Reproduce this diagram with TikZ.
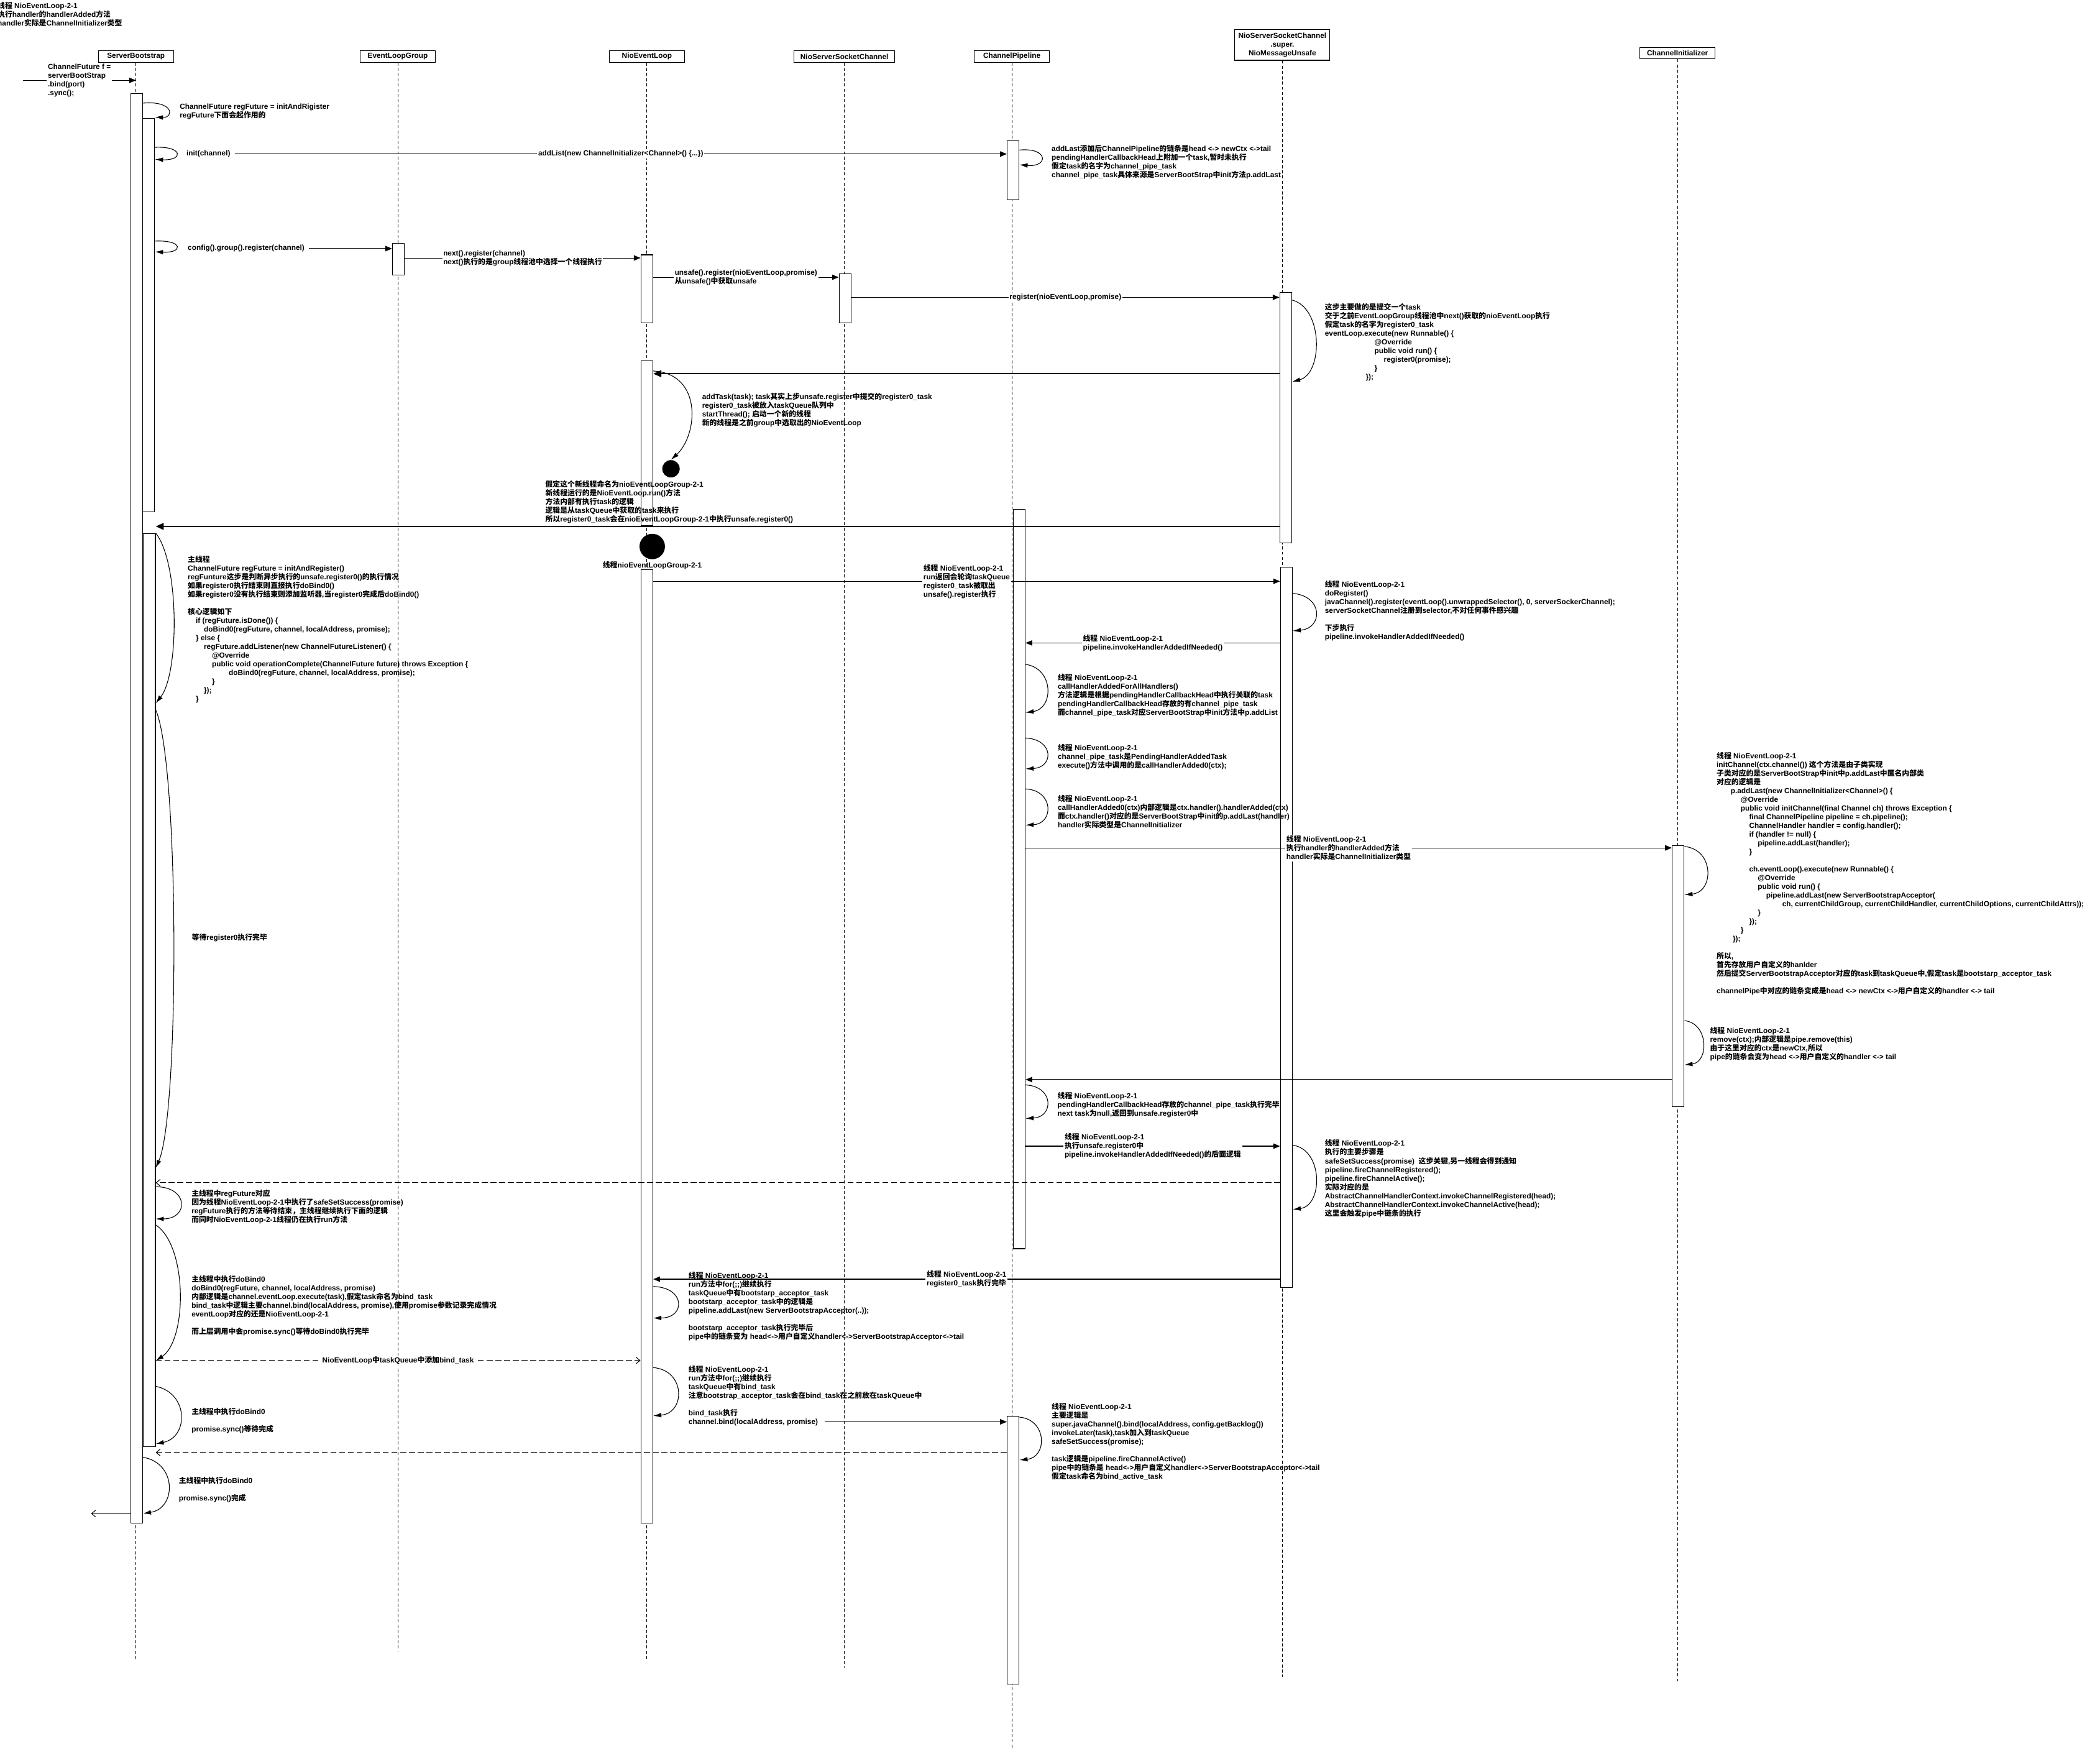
\documentclass[tikz,border=0pt]{standalone}
\usepackage{fontspec}
\setmainfont{Liberation Sans}
\newfontfamily\latinfont{Liberation Sans}
\newfontfamily\cjkfont{Noto Sans CJK SC}
\usetikzlibrary{arrows.meta}

% switch to the CJK font for runs of Chinese characters
\XeTeXinterchartokenstate=1
\chardef\cjkclass=10
\newcount\cjkcode
\def\markcjk#1#2{\cjkcode=#1\relax
  \loop\XeTeXcharclass\cjkcode=\cjkclass\relax
  \ifnum\cjkcode<#2\advance\cjkcode by 1\relax\repeat}
\markcjk{"3000}{"303F}
\markcjk{"4E00}{"9FFF}
\markcjk{"FF00}{"FFEF}
\XeTeXinterchartoks 0 \cjkclass = {\cjkfont}
\XeTeXinterchartoks 1 \cjkclass = {\cjkfont}
\XeTeXinterchartoks 2 \cjkclass = {\cjkfont}
\XeTeXinterchartoks 3 \cjkclass = {\cjkfont}
\XeTeXinterchartoks 4095 \cjkclass = {\cjkfont}
\XeTeXinterchartoks \cjkclass 0 = {\latinfont}
\XeTeXinterchartoks \cjkclass 1 = {\latinfont}
\XeTeXinterchartoks \cjkclass 2 = {\latinfont}
\XeTeXinterchartoks \cjkclass 3 = {\latinfont}
\XeTeXinterchartoks \cjkclass 4095 = {\latinfont}

\newcommand\tfont{\fontsize{5.5}{6.5}\selectfont\bfseries}

\tikzset{every picture/.style={line width=0.5pt}}
\tikzset{
  head/.style={draw, fill=white, minimum width=56, minimum height=8.5, inner sep=0.5, font=\tfont, align=center},
  life/.style={draw, dash pattern=on 2.3pt off 1.6pt, line width=0.4pt},
  actbar/.style={draw, fill=white, minimum width=9, inner sep=0, anchor=north},
  dot/.style={circle, fill=black, inner sep=0},
  msg/.style={-{Triangle[length=5pt,width=4pt]}},
  heavy/.style={line width=1.1pt, -{Triangle[length=6pt,width=5pt]}},
  reply/.style={dash pattern=on 4.5pt off 2pt, -{Straight Barb[length=3pt,width=5pt]}},
  back/.style={-{Straight Barb[length=3pt,width=5pt]}},
  selfcall/.style={-{Latex[length=6pt,width=3.5pt]}},
  note/.style={anchor=north west, inner sep=0, align=left, font=\tfont},
  lbl/.style={fill=white, inner sep=0.8, align=left, font=\tfont},
}

\begin{document}
\begin{tikzpicture}[x=1pt,y=-1pt]
\fill[white] (0,0) rectangle (1568,1313);
\useasboundingbox (0,0) rectangle (1568,1313);

%participants
\node[head] (sb) at (101.5,42.2) {ServerBootstrap};
\node[head] (elg) at (297,42.2) {EventLoopGroup};
\node[head] (nel) at (483,42.2) {NioEventLoop};
\node[head, minimum width=75] (nssc) at (630.5,42.2) {NioServerSocketChannel};
\node[head] (cp) at (755.5,42.2) {ChannelPipeline};
\node[head, minimum width=71, minimum height=23] (nmu) at (957.5,33.5) {NioServerSocketChannel\\.super.\\NioMessageUnsafe};
\node[head] (ci) at (1252.5,39.8) {ChannelInitializer};

%lifelines
\draw[life] (sb.south) -- (sb.south |- 0,1240);
\draw[life] (elg.south) -- (elg.south |- 0,1233);
\draw[life] (nel.south) -- (nel.south |- 0,1240);
\draw[life] (nssc.south) -- (nssc.south |- 0,1245);
\draw[life] (cp.south) -- (cp.south |- 0,1305);
\draw[life] (nmu.south) -- (nmu.south |- 0,1252);
\draw[life] (ci.south) -- (ci.south |- 0,1255);

%activation bars
\node[actbar, minimum height=1067.5] (sbA) at (102,69.5) {};
\node[actbar, minimum height=294] (sbB) at (111,88) {};
\node[actbar, minimum height=682] (sbC) at (111.5,398) {};
\node[actbar, minimum height=23.5] (elgA) at (297.5,181.5) {};
\node[actbar, minimum height=51] (nelA) at (483,190) {};
\node[actbar, minimum height=123] (nelB) at (483,269) {};
\node[actbar, minimum height=712] (nelC) at (483,425) {};
\node[actbar, minimum height=37] (nsscA) at (631,204) {};
\node[actbar, minimum height=44] (cpA) at (756.5,105) {};
\node[actbar, minimum height=552] (cpB) at (761,380) {};
\node[actbar, minimum height=200] (cpC) at (756.5,1057) {};
\node[actbar, minimum height=187] (nmuA) at (960,218) {};
\node[actbar, minimum height=538] (nmuB) at (960.5,423) {};
\node[actbar, minimum height=195] (ciA) at (1253,631) {};

\node[dot, minimum size=13] (spawn) at (501,350) {};
\node[dot, minimum size=19] (newThread) at (487,408) {};
\node[font=\tfont, inner sep=0] (newThreadTxt) at (487,422) {线程nioEventLoopGroup-2-1};

%entry
\coordinate (entry) at (17,60);
\draw[msg] (entry) -- node[lbl] {ChannelFuture f =\\serverBootStrap\\.bind(port)\\.sync();} (sb.south |- entry);
\draw[selfcall] (sbA.east |- 0,77) .. controls (130,75) and (130,88) .. (sbB.east |- 0,87.5);
\node[note] (regTxt) at (134,77.3) {ChannelFuture regFuture = initAndRigister\\regFuture下面会起作用的};

%init
\draw[selfcall] (sbB.east |- 0,110) .. controls (137,109) and (137,120) .. (sbB.east |- 0,119);
\node[note, anchor=west] (initTxt) at (139,115) {init(channel)};
\draw[msg] ([xshift=3pt]initTxt.east) -- node[lbl] {addList(new ChannelInitializer<Channel>() \{...\})} (cpA.west |- initTxt.east);
\draw[selfcall] (cpA.east |- 0,112) .. controls (783,110) and (783,125) .. (cpA.east |- 0,123);
\node[note] (addLastTxt) at (785,107.8) {addLast添加后ChannelPipeline的链条是head <-> newCtx <->tail\\pendingHandlerCallbackHead上附加一个task,暂时未执行\\假定task的名字为channel\_pipe\_task\\channel\_pipe\_task具体来源是ServerBootStrap中init方法p.addLast};

%register
\draw[selfcall] (sbB.east |- 0,180) .. controls (137,179) and (137,189) .. (sbB.east |- 0,188);
\node[note, anchor=west] (cfgTxt) at (140,185.6) {config().group().register(channel)};
\draw[msg] ([xshift=3pt]cfgTxt.east) -- (elgA.west |- cfgTxt.east);
\draw[msg] (elgA.east |- 0,192.6) -- node[lbl] {next().register(channel)\\next()执行的是group线程池中选择一个线程执行} (nelA.west |- 0,192.6);
\draw[msg] (nelA.east |- 0,207) -- node[lbl] {unsafe().register(nioEventLoop,promise)\\从unsafe()中获取unsafe} (nsscA.west |- 0,207);
\draw[msg] (nsscA.east |- 0,222) -- node[lbl] {register(nioEventLoop,promise)} (nmuA.west |- 0,222);
\draw[selfcall] (nmuA.east |- 0,224) .. controls (988,230) and (988,279) .. (nmuA.east |- 0,285);
\node[note] (submitTxt) at (989,226.3) {这步主要做的是提交一个task\\交于之前EventLoopGroup线程池中next()获取的nioEventLoop执行\\假定task的名字为register0\_task\\eventLoop.execute(new Runnable() \{\\\hspace*{37pt}@Override\\\hspace*{37pt}public void run() \{\\\hspace*{44pt}register0(promise);\\\hspace*{37pt}\}\\\hspace*{30.5pt}\});};
\draw[heavy] (nmuA.west |- 0,279) -- (nelB.east |- 0,279);
\draw[selfcall] (nelB.east |- 0,277) .. controls (525,279) and (521,325) .. (spawn.north);
\node[note] (addTaskTxt) at (524,293.3) {addTask(task); task其实上步unsafe.register中提交的register0\_task\\register0\_task被放入taskQueue队列中\\startThread(); 启动一个新的线程\\新的线程是之前group中选取出的NioEventLoop};
\node[note] (threadTxt) at (407,358.3) {假定这个新线程命名为nioEventLoopGroup-2-1\\新线程运行的是NioEventLoop.run()方法\\方法内部有执行task的逻辑\\逻辑是从taskQueue中获取的task来执行\\所以register0\_task会在nioEventLoopGroup-2-1中执行unsafe.register0()};
\draw[heavy] (nmuA.west |- 0,393) -- (sbC.east |- 0,393);

%register0 in NioEventLoop-2-1
\draw[msg] (nelC.east |- 0,434) -- node[lbl] {线程 NioEventLoop-2-1\\run返回会轮询taskQueue\\register0\_task被取出\\unsafe().register执行} (nmuB.west |- 0,434);
\draw[selfcall] (nmuB.east |- 0,443) .. controls (988,445) and (988,469) .. (nmuB.east |- 0,471);
\node[note] (doRegTxt) at (989,433.3) {线程 NioEventLoop-2-1\\doRegister()\\javaChannel().register(eventLoop().unwrappedSelector(), 0, serverSockerChannel);\\serverSocketChannel注册到selector,不对任何事件感兴趣\\~\\下步执行\\pipeline.invokeHandlerAddedIfNeeded()};
\draw[msg] (nmuB.west |- 0,480) -- node[lbl] {线程 NioEventLoop-2-1\\pipeline.invokeHandlerAddedIfNeeded()} (cpB.east |- 0,480);
\draw[selfcall] (cpB.east |- 0,496) .. controls (787,499) and (787,529) .. (cpB.east |- 0,532);
\node[note] (allTxt) at (789.6,502.7) {线程 NioEventLoop-2-1\\callHandlerAddedForAllHandlers()\\方法逻辑是根据pendingHandlerCallbackHead中执行关联的task\\pendingHandlerCallbackHead存放的有channel\_pipe\_task\\而channel\_pipe\_task对应ServerBootStrap中init方法中p.addList};
\draw[selfcall] (cpB.east |- 0,551) .. controls (787,552) and (787,573) .. (cpB.east |- 0,574);
\node[note] (pendTxt) at (789.6,555.3) {线程 NioEventLoop-2-1\\channel\_pipe\_task是PendingHandlerAddedTask\\execute()方法中调用的是callHandlerAdded0(ctx);};
\draw[selfcall] (cpB.east |- 0,589) .. controls (787,590) and (787,615) .. (cpB.east |- 0,616);
\node[note] (added0Txt) at (789.6,593.6) {线程 NioEventLoop-2-1\\callHandlerAdded0(ctx)内部逻辑是ctx.handler().handlerAdded(ctx)\\而ctx.handler()对应的是ServerBootStrap中init的p.addLast(handler)\\handler实际类型是ChannelInitializer};
\draw[msg] (cpB.east |- 0,633) -- node[lbl] {线程 NioEventLoop-2-1\\执行handler的handlerAdded方法\\handler实际是ChannelInitializer类型} (ciA.west |- 0,633);
\node[note] (copyTxt) at (-2,1.3) {线程 NioEventLoop-2-1\\执行handler的handlerAdded方法\\handler实际是ChannelInitializer类型};

%ChannelInitializer
\draw[selfcall] (ciA.east |- 0,632) .. controls (1280,634) and (1280,666) .. (ciA.east |- 0,668);
\node[note] (initChTxt) at (1281.5,561.3) {线程 NioEventLoop-2-1\\initChannel(ctx.channel()) 这个方法是由子类实现\\子类对应的是ServerBootStrap中init中p.addLast中匿名内部类\\对应的逻辑是\\\hspace*{10.5pt}p.addLast(new ChannelInitializer<Channel>() \{\\\hspace*{18pt}@Override\\\hspace*{18pt}public void initChannel(final Channel ch) throws Exception \{\\\hspace*{24.3pt}final ChannelPipeline pipeline = ch.pipeline();\\\hspace*{24.3pt}ChannelHandler handler = config.handler();\\\hspace*{24.3pt}if (handler != null) \{\\\hspace*{30.7pt}pipeline.addLast(handler);\\\hspace*{24.3pt}\}\\~\\\hspace*{24.3pt}ch.eventLoop().execute(new Runnable() \{\\\hspace*{30.7pt}@Override\\\hspace*{30.7pt}public void run() \{\\\hspace*{37pt}pipeline.addLast(new ServerBootstrapAcceptor(\\\hspace*{49pt}ch, currentChildGroup, currentChildHandler, currentChildOptions, currentChildAttrs));\\\hspace*{30.7pt}\}\\\hspace*{24.3pt}\});\\\hspace*{18pt}\}\\\hspace*{12pt}\});\\~\\所以,\\首先存放用户自定义的hanlder\\然后提交ServerBootstrapAcceptor对应的task到taskQueue中,假定task是bootstarp\_acceptor\_task\\~\\channelPipe中对应的链条变成是head <-> newCtx <->用户自定义的handler <-> tail};
\draw[selfcall] (ciA.east |- 0,762) .. controls (1276,764) and (1276,793) .. (ciA.east |- 0,795);
\node[note] (removeTxt) at (1276.6,766.3) {线程 NioEventLoop-2-1\\remove(ctx);内部逻辑是pipe.remove(this)\\由于这里对应的ctx是newCtx,所以\\pipe的链条会变为head <->用户自定义的handler <-> tail};
\draw[msg] (ciA.west |- 0,806) -- (cpB.east |- 0,806);
\draw[selfcall] (cpB.east |- 0,810) .. controls (787,811) and (787,834) .. (cpB.east |- 0,835);
\node[note] (doneTxt) at (789.4,815.1) {线程 NioEventLoop-2-1\\pendingHandlerCallbackHead存放的channel\_pipe\_task执行完毕\\next task为null,返回到unsafe.register0中};
\draw[msg] (cpB.east |- 0,855.7) -- node[lbl] {线程 NioEventLoop-2-1\\执行unsafe.register0中\\pipeline.invokeHandlerAddedIfNeeded()的后面逻辑} (nmuB.west |- 0,855.7);
\draw[selfcall] (nmuB.east |- 0,855) .. controls (988,858) and (988,900) .. (nmuB.east |- 0,903);
\node[note] (successTxt) at (989,850.7) {线程 NioEventLoop-2-1\\执行的主要步骤是\\safeSetSuccess(promise)~ 这步关键,另一线程会得到通知\\pipeline.fireChannelRegistered();\\pipeline.fireChannelActive();\\实际对应的是\\AbstractChannelHandlerContext.invokeChannelRegistered(head);\\AbstractChannelHandlerContext.invokeChannelActive(head);\\这里会触发pipe中链条的执行};
\draw[reply] (nmuB.west |- 0,883) -- (sbC.east |- 0,883);

%main thread
\draw[selfcall] (sbC.east |- 0,398) .. controls (134,420) and (134,503) .. (sbC.east |- 0,525);
\node[note] (mainTxt) at (140,414.6) {主线程\\ChannelFuture regFuture = initAndRegister()\\regFunture这步是判断异步执行的unsafe.register0()的执行情况\\如果register0执行结束则直接执行doBind0()\\如果register0没有执行结束则添加监听器,当register0完成后doBind0()\\~\\核心逻辑如下\\\hspace*{6pt}if (regFuture.isDone()) \{\\\hspace*{12pt}doBind0(regFuture, channel, localAddress, promise);\\\hspace*{6pt}\} else \{\\\hspace*{12pt}regFuture.addListener(new ChannelFutureListener() \{\\\hspace*{18pt}@Override\\\hspace*{18pt}public void operationComplete(ChannelFuture future) throws Exception \{\\\hspace*{30.6pt}doBind0(regFuture, channel, localAddress, promise);\\\hspace*{18pt}\}\\\hspace*{12pt}\});\\\hspace*{6pt}\}};
\draw[selfcall] (sbC.east |- 0,530) .. controls (134,570) and (134,832) .. (sbC.east |- 0,872);
\node[note, anchor=west] (waitTxt) at (143,700) {等待register0执行完毕};
\draw[selfcall] (sbC.east |- 0,886) .. controls (141,886) and (141,910) .. (sbC.east |- 0,910);
\node[note] (regDoneTxt) at (142.8,887.8) {主线程中regFuture对应\\因为线程NioEventLoop-2-1中执行了safeSetSuccess(promise)\\regFuture执行的方法等待结束，主线程继续执行下面的逻辑\\而同时NioEventLoop-2-1线程仍在执行run方法};
\draw[selfcall] (sbC.east |- 0,914.5) .. controls (140,930) and (140,1000) .. (sbC.east |- 0,1016);
\node[note] (bindTxt) at (142.8,952.3) {主线程中执行doBind0\\doBind0(regFuture, channel, localAddress, promise)\\内部逻辑是channel.eventLoop.execute(task),假定task命名为bind\_task\\bind\_task中逻辑主要channel.bind(localAddress, promise),使用promise参数记录完成情况\\eventLoop对应的还是NioEventLoop-2-1\\~\\而上层调用中会promise.sync()等待doBind0执行完毕};
\draw[reply] (sbC.east |- 0,1015.7) -- node[lbl] {NioEventLoop中taskQueue中添加bind\_task} (nelC.west |- 0,1015.7);
\draw[selfcall] (sbC.east |- 0,1035) .. controls (141,1040) and (141,1073) .. (sbC.east |- 0,1078);
\node[note] (syncTxt) at (142.8,1050.9) {主线程中执行doBind0\\~\\promise.sync()等待完成};
\draw[reply] (cpC.west |- 0,1084.4) -- (sbC.east |- 0,1084.4);
\draw[selfcall] (sbA.east |- 0,1088) .. controls (132,1092) and (132,1126) .. (sbA.east |- 0,1130);
\node[note] (syncDoneTxt) at (133.3,1102.5) {主线程中执行doBind0\\~\\promise.sync()完成};
\coordinate (exitPt) at (68,1130);
\draw[back] (sbA.west |- exitPt) -- (exitPt);

%NioEventLoop-2-1 run loop
\draw[msg] (nmuB.west |- 0,955) -- node[lbl] {线程 NioEventLoop-2-1\\register0\_task执行完毕} (nelC.east |- 0,955);
\draw[selfcall] (nelC.east |- 0,960.5) .. controls (512,961) and (512,984) .. (nelC.east |- 0,984);
\node[note] (acceptorTxt) at (513.9,949.1) {线程 NioEventLoop-2-1\\run方法中for(;;)继续执行\\taskQueue中有bootstarp\_acceptor\_task\\bootstarp\_acceptor\_task中的逻辑是\\pipeline.addLast(new ServerBootstrapAcceptor(..));\\~\\bootstarp\_acceptor\_task执行完毕后\\pipe中的链条变为 head<->用户自定义handler<->ServerBootstrapAcceptor<->tail};
\draw[selfcall] (nelC.east |- 0,1021) .. controls (512,1023) and (512,1055) .. (nelC.east |- 0,1057);
\node[note] (bindTaskTxt) at (513.9,1019.3) {线程 NioEventLoop-2-1\\run方法中for(;;)继续执行\\taskQueue中有bind\_task\\注意bootstrap\_acceptor\_task会在bind\_task在之前放在taskQueue中\\~\\bind\_task执行\\channel.bind(localAddress, promise)};
\coordinate (bindOut) at (616,1061.5);
\draw[msg] (bindOut) -- (cpC.west |- bindOut);
\draw[selfcall] (cpC.east |- 0,1058) .. controls (782,1060) and (782,1088) .. (cpC.east |- 0,1090);
\node[note] (activeTxt) at (785,1047.3) {线程 NioEventLoop-2-1\\主要逻辑是\\super.javaChannel().bind(localAddress, config.getBacklog())\\invokeLater(task),task加入到taskQueue\\safeSetSuccess(promise);\\~\\task逻辑是pipeline.fireChannelActive()\\pipe中的链条是 head<->用户自定义handler<->ServerBootstrapAcceptor<->tail\\假定task命名为bind\_active\_task};

\end{tikzpicture}
\end{document}
